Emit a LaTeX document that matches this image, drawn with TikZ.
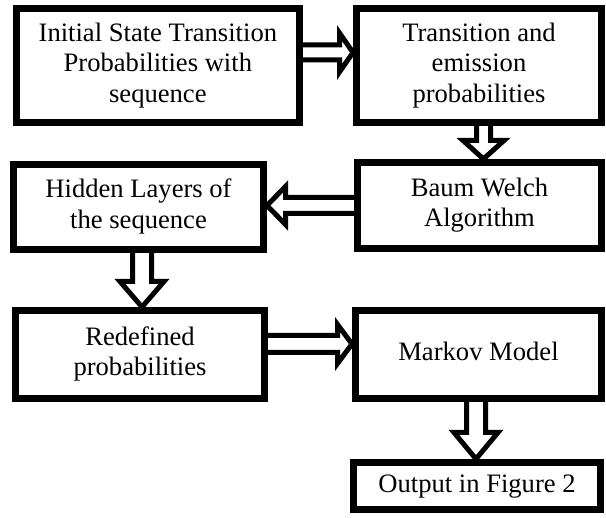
\documentclass[tikz,border=0pt]{standalone}
\usepackage{fontspec}
\setmainfont{Liberation Serif}
\usetikzlibrary{calc,backgrounds}
\newcommand\bt[2][4pt]{\raisebox{-#1}{\begin{tabular}{@{}c@{}}#2\end{tabular}}}
\tikzset{
  box/.style={draw=black, line width=7pt, fill=white, inner sep=0pt,
    font=\fontsize{26.6}{30.6}\selectfont},
  blk/.style={draw=black, fill=white, line width=5pt, line join=miter},
  harrow/.style n args={3}{to path={let \p1=(\tikztostart), \p2=(\tikztotarget),
      \n1={sign(\x2-\x1)} in
      ({\x1-(\n1)*6pt},{\y1+#1}) -- ({\x2-(\n1)*#3},{\y1+#1}) -- ({\x2-(\n1)*#3},{\y1+#2})
      -- (\x2,\y1) -- ({\x2-(\n1)*#3},{\y1-#2}) -- ({\x2-(\n1)*#3},{\y1-#1})
      -- ({\x1-(\n1)*6pt},{\y1-#1}) -- cycle}},
  varrow/.style n args={3}{to path={let \p1=(\tikztostart), \p2=(\tikztotarget),
      \n1={sign(\y2-\y1)} in
      ({\x1+#1},{\y1-(\n1)*6pt}) -- ({\x1+#1},{\y2-(\n1)*#3}) -- ({\x1+#2},{\y2-(\n1)*#3})
      -- (\x1,\y2) -- ({\x1-#2},{\y2-(\n1)*#3}) -- ({\x1-#1},{\y2-(\n1)*#3})
      -- ({\x1-#1},{\y1-(\n1)*6pt}) -- cycle}},
}
\begin{document}
\begin{tikzpicture}[x=1pt,y=1pt]
\useasboundingbox (0,0) rectangle (606,518);
\node[box, minimum width=283.3pt, minimum height=114pt] (b1) at (157.85,452.5)
  {\bt{Initial State Transition\\Probabilities with\\sequence}};
\node[box, minimum width=245pt, minimum height=114pt] (b2) at (479,452.5)
  {\bt{Transition and\\emission\\probabilities}};
\node[box, minimum width=244pt, minimum height=86pt] (b3) at (479.5,312.5)
  {\bt[2pt]{Baum Welch\\Algorithm}};
\node[box, minimum width=250pt, minimum height=85pt] (b4) at (138.5,311.3)
  {\bt[2.5pt]{Hidden Layers of\\the sequence}};
\node[box, minimum width=249pt, minimum height=88pt] (b5) at (140,163.5)
  {\bt[3.7pt]{Redefined\\probabilities}};
\node[box, minimum width=246pt, minimum height=88pt] (b6) at (478.5,163.5)
  {\bt[4.4pt]{Markov Model}};
\node[box, minimum width=247pt, minimum height=47pt] (b7) at (477,32)
  {\bt[4.5pt]{Output in Figure 2}};
\begin{scope}[on background layer]
\fill[white] (0,0) rectangle (606,518);
\draw[blk, harrow={7.5pt}{19.5pt}{13.5pt}] ([yshift=13pt]b1.east) to (b2.west);
\draw[blk, varrow={7pt}{20.5pt}{18.5pt}] ([xshift=4.5pt]b2.south) to (b3.north);
\draw[blk, harrow={8pt}{19pt}{18.5pt}] (b3.west) to (b4.east);
\draw[blk, varrow={9.5pt}{22pt}{25.5pt}] ([xshift=3.5pt]b4.south) to (b5.north);
\draw[blk, harrow={8.5pt}{19.5pt}{14.5pt}] ([yshift=10.5pt]b5.east) to (b6.west);
\draw[blk, varrow={9.5pt}{22pt}{26.5pt}] ([xshift=-2.5pt]b6.south) to (b7.north);
\end{scope}
\end{tikzpicture}
\end{document}
